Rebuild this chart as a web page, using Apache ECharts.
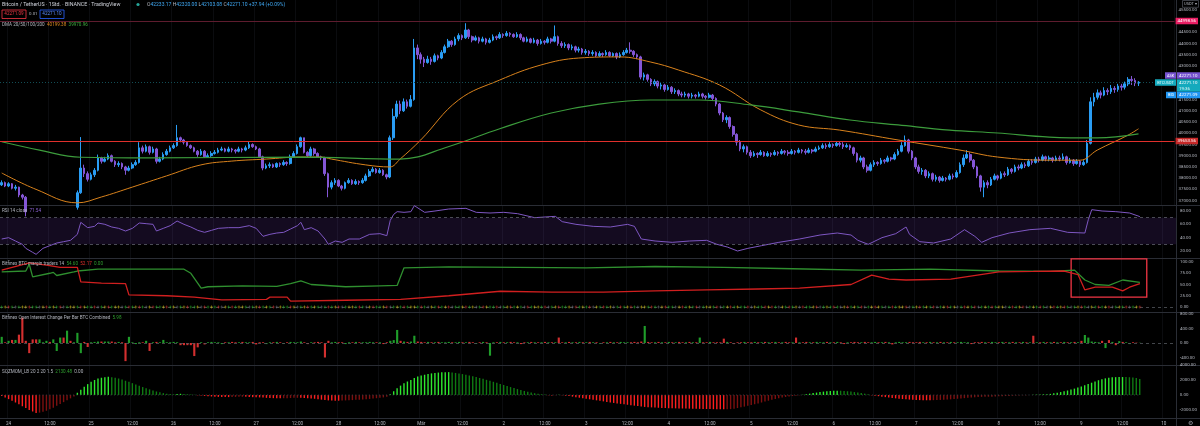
<!DOCTYPE html>
<html>
<head>
<meta charset="utf-8">
<script src="https://cdn.jsdelivr.net/npm/echarts@6/dist/echarts.min.js"></script>
<style>
  html, body { margin: 0; padding: 0; background: #000; }
  #chart { width: 1200px; height: 426px; }
</style>
</head>
<body>
<div id="chart"></div>
<script>
// BTCUSDT 1h, Feb 23 22:00 -> Mar 9 17:00 (2022)
var startTime = Date.UTC(2022, 1, 23, 22)
var slots = 342

var open0 = 37700
var closes = [
    37800, 37650, 37750, 37550, 37600, 37250, 37150, 36500, 35800, 35200, 34700, 35100,
    35400, 35700, 35300, 35500, 35900, 36200, 36000, 36300, 36100, 36700, 37350, 38450,
    38200, 37950, 38150, 38350, 38900, 38750, 38850, 39000, 38750, 38600, 38650, 38500,
    38350, 38450, 38600, 38700, 39350, 39200, 39400, 39150, 39300, 38750, 38850, 39050,
    39200, 39350, 39450, 39800, 39700, 39600, 39450, 39350, 39200, 39050, 39200, 38950,
    39000, 39100, 39150, 39250, 39300, 39200, 39300, 39250, 39200, 39300, 39250, 39350,
    39500, 39400, 39300, 38950, 38450, 38550, 38600, 38500, 38650, 38600, 38700, 38650,
    38950, 39100, 39400, 39800, 39150, 39000, 39300, 39100, 38950, 38900, 38200, 37600,
    37800, 37900, 37650, 37550, 37800, 37900, 37750, 37850, 37800, 37900, 38100, 38300,
    38400, 38250, 38350, 38150, 38050, 39800, 40750, 41300, 41000, 41400, 41200, 41500,
    43800, 43500, 43300, 43150, 43300, 43200, 43450, 43350, 43600, 43850, 44100, 43950,
    44200, 44350, 44250, 44600, 44300, 44150, 44250, 44100, 44200, 44050, 44150, 44300,
    44250, 44400, 44350, 44450, 44400, 44300, 44400, 44250, 44100, 44200, 44050, 44150,
    44000, 44100, 44050, 44200, 44100, 44300, 44000, 43900, 43950, 43800, 43850, 43700,
    43750, 43600, 43650, 43550, 43600, 43450, 43550, 43500, 43600, 43450, 43550, 43400,
    43500, 43600, 43700, 43650, 43500, 43400, 42500, 42600, 42400, 42200, 42300, 42100,
    42150, 41950, 42050, 41850, 41900, 41750, 41700, 41750, 41650, 41700, 41650, 41750,
    41650, 41600, 41700, 41550, 41300, 40900, 40600, 40700, 40300, 39950, 39600, 39300,
    39400, 39150, 39000, 39100, 39050, 39150, 39000, 39100, 39050, 39150, 39100, 39200,
    39150, 39100, 39200, 39150, 39250, 39200, 39150, 39250, 39200, 39300, 39350, 39450,
    39400, 39500, 39450, 39550, 39500, 39400, 39450, 39350, 39100, 38800, 38900, 38500,
    38350, 38600, 38700, 38650, 38800, 38750, 38900, 38850, 39050, 39200, 39450, 39700,
    39200, 38900, 38500, 38300, 38350, 38100, 38200, 37950, 38050, 37900, 38000, 37950,
    38100, 38050, 38250, 38600, 38900, 39050, 38800, 38500, 38100, 37600, 37800, 37700,
    37950, 38100, 38000, 38200, 38150, 38400, 38300, 38500, 38450, 38600, 38550, 38750,
    38700, 38850, 38800, 38950, 38850, 38900, 38800, 38900, 38850, 38950, 38700, 38800,
    38650, 38750, 38600, 38700, 39550, 41400, 41600, 41800, 41700, 41900, 41850, 42000,
    41950, 42100, 42050, 42200, 42400, 42350, 42233.17, 42271.10
]
var highs = [
    37900, 37850, 37820, 37780, 37700, 37620, 37300, 37200, 36600, 35900, 35400, 35300,
    35600, 35900, 35800, 35700, 36100, 36500, 36400, 36500, 36400, 36800, 37450, 39830,
    38600, 38300, 38250, 38450, 39050, 38950, 38950, 39100, 39050, 38800, 38750, 38700,
    38550, 38550, 38700, 38800, 39600, 39450, 39500, 39450, 39400, 39350, 38950, 39150,
    39300, 39450, 39550, 40370, 39850, 39750, 39650, 39500, 39400, 39250, 39300, 39250,
    39100, 39200, 39250, 39350, 39400, 39350, 39400, 39350, 39300, 39400, 39350, 39450,
    39650, 39550, 39450, 39350, 39000, 38650, 38700, 38650, 38700, 38700, 38800, 38750,
    39050, 39200, 39500, 39850, 39800, 39200, 39400, 39350, 39150, 39000, 38950, 38250,
    37900, 38000, 37950, 37700, 37850, 38000, 37950, 37950, 37900, 38000, 38200, 38400,
    38500, 38450, 38450, 38400, 38200, 39900, 41100, 41450, 41450, 41550, 41500, 41700,
    44200, 43950, 43600, 43400, 43450, 43400, 43550, 43500, 43700, 43950, 44200, 44150,
    44300, 44450, 44400, 44900, 44650, 44350, 44350, 44300, 44300, 44250, 44250, 44400,
    44350, 44500, 44450, 44550, 44500, 44450, 44500, 44450, 44300, 44300, 44250, 44250,
    44200, 44200, 44150, 44300, 44250, 44800, 44350, 44100, 44050, 44000, 43950, 43900,
    43850, 43800, 43750, 43700, 43700, 43650, 43650, 43600, 43700, 43650, 43600, 43600,
    43600, 43700, 43800, 44050, 43700, 43550, 43450, 42700, 42650, 42450, 42400, 42350,
    42250, 42200, 42150, 42100, 42000, 41950, 41850, 41850, 41800, 41800, 41750, 41850,
    41800, 41700, 41800, 41750, 41600, 41350, 40950, 40800, 40750, 40350, 40000, 39700,
    39500, 39450, 39250, 39200, 39150, 39250, 39200, 39200, 39150, 39250, 39200, 39300,
    39250, 39250, 39300, 39250, 39350, 39300, 39300, 39350, 39300, 39400, 39450, 39550,
    39550, 39600, 39550, 39650, 39650, 39600, 39550, 39500, 39400, 39150, 39000, 38950,
    38600, 38700, 38800, 38750, 38900, 38850, 39000, 38950, 39150, 39300, 39600, 39900,
    39750, 39250, 38950, 38600, 38450, 38400, 38300, 38250, 38150, 38100, 38100, 38050,
    38200, 38200, 38350, 38700, 39050, 39250, 39150, 38850, 38550, 38150, 37900, 37900,
    38050, 38200, 38150, 38300, 38300, 38500, 38450, 38600, 38600, 38700, 38700, 38850,
    38850, 38950, 38950, 39050, 39000, 39000, 38950, 39000, 39000, 39100, 39000, 38900,
    38850, 38850, 38800, 38800, 39700, 41600, 41800, 41950, 41900, 42050, 42000, 42150,
    42100, 42200, 42200, 42300, 42500, 42550, 42450, 42320.00
]
var lows = [
    37650, 37600, 37600, 37500, 37450, 37150, 37050, 36300, 35500, 34800, 34400, 34500,
    34900, 35200, 35100, 35200, 35400, 35800, 35800, 35900, 35900, 36000, 36600, 37300,
    38050, 37850, 37900, 38050, 38300, 38650, 38700, 38800, 38700, 38500, 38500, 38400,
    38150, 38300, 38400, 38550, 38650, 39100, 39150, 39050, 39100, 38650, 38700, 38800,
    39000, 39150, 39300, 39400, 39600, 39500, 39400, 39300, 39150, 38950, 39000, 38900,
    38900, 38950, 39050, 39100, 39200, 39150, 39150, 39150, 39100, 39150, 39150, 39200,
    39300, 39350, 39250, 38900, 38350, 38400, 38450, 38450, 38450, 38500, 38550, 38550,
    38600, 38900, 39050, 39350, 39100, 38950, 38950, 39000, 38900, 38800, 38100, 37150,
    37500, 37700, 37600, 37450, 37500, 37750, 37700, 37700, 37700, 37750, 37850, 38050,
    38250, 38200, 38200, 38100, 37950, 38000, 39700, 40650, 40850, 40950, 41100, 41150,
    41450, 43300, 43100, 42950, 43100, 43050, 43150, 43250, 43300, 43550, 43800, 43850,
    43900, 44100, 44150, 44200, 44200, 44050, 44100, 44000, 44050, 43950, 44000, 44100,
    44150, 44200, 44250, 44300, 44300, 44250, 44250, 44150, 44050, 44050, 44000, 44000,
    43900, 43950, 43950, 44000, 44000, 44050, 43900, 43800, 43800, 43700, 43700, 43600,
    43600, 43500, 43500, 43450, 43450, 43400, 43400, 43400, 43450, 43400, 43400, 43300,
    43350, 43450, 43550, 43550, 43400, 43300, 42400, 42350, 42300, 42100, 42100, 42000,
    41950, 41850, 41900, 41750, 41750, 41650, 41600, 41600, 41550, 41550, 41550, 41600,
    41550, 41500, 41550, 41450, 41200, 40800, 40500, 40450, 40200, 39850, 39450, 39200,
    39150, 39050, 38900, 38950, 38900, 39000, 38950, 38950, 38950, 39000, 39000, 39050,
    39050, 39000, 39050, 39050, 39100, 39100, 39050, 39100, 39100, 39150, 39250, 39300,
    39300, 39350, 39350, 39400, 39400, 39300, 39350, 39250, 39000, 38700, 38700, 38400,
    38250, 38300, 38500, 38550, 38600, 38650, 38700, 38750, 38800, 39000, 39150, 39400,
    39100, 38800, 38400, 38200, 38150, 38000, 38000, 37850, 37850, 37800, 37850, 37850,
    37900, 37950, 38000, 38200, 38500, 38850, 38700, 38400, 38000, 37400, 37150, 37550,
    37650, 37900, 37900, 37950, 38050, 38100, 38200, 38250, 38350, 38400, 38450, 38500,
    38600, 38650, 38700, 38750, 38750, 38750, 38700, 38750, 38750, 38800, 38600, 38650,
    38550, 38600, 38500, 38550, 38650, 39500, 41200, 41500, 41550, 41650, 41700, 41750,
    41800, 41850, 41900, 41950, 42100, 42150, 42100, 42103.08
]

// moving averages, [candle index, price]
var maFast = [[0, 38230], [10, 37500], [22, 36900], [29, 37160], [38, 37600], [48, 38100], [58, 38590],
    [67, 38760], [77, 38850], [87, 38940], [93, 38940], [96, 38850], [106, 38590], [113, 38500],
    [116, 38850], [122, 39700], [133, 41480], [145, 42370], [157, 43040], [168, 43350], [180, 43400],
    [189, 43170], [197, 42820], [209, 42150], [221, 41040], [232, 40370], [244, 40140], [261, 39700],
    [279, 39250], [290, 38940], [305, 38800], [314, 38800], [319, 39250], [328, 39920], [331, 40199.38]]
var maSlow = [[0, 39620], [11, 39250], [23, 38930], [43, 38900], [87, 38940], [116, 38850], [130, 39400],
    [145, 40200], [160, 40900], [174, 41300], [189, 41480], [203, 41480], [218, 41260], [232, 40950],
    [247, 40590], [261, 40370], [276, 40140], [290, 40010], [305, 39830], [319, 39790], [331, 39970.96]]

var rsi = [[0, 38], [2, 40], [4, 35], [6, 30], [7, 24], [9, 18], [10, 15], [12, 24], [14, 28], [16, 32],
    [18, 34], [20, 36], [22, 45], [23, 63], [25, 55], [27, 57], [28, 62], [30, 60], [32, 56], [34, 54],
    [36, 50], [38, 54], [40, 62], [42, 61], [44, 60], [45, 50], [47, 54], [49, 58], [51, 65], [53, 60],
    [55, 56], [57, 51], [59, 48], [61, 51], [63, 54], [66, 55], [69, 55], [72, 58], [74, 54], [76, 42],
    [78, 45], [80, 47], [82, 48], [84, 53], [86, 58], [87, 63], [88, 52], [90, 55], [92, 50], [94, 38],
    [95, 30], [97, 35], [99, 33], [101, 38], [104, 38], [107, 45], [110, 46], [112, 43], [113, 66],
    [114, 75], [115, 79], [117, 78], [119, 79], [120, 88], [123, 78], [126, 80], [130, 83], [135, 84],
    [138, 78], [142, 77], [146, 78], [150, 76], [155, 70], [161, 72], [163, 64], [167, 60], [172, 57],
    [177, 56], [182, 60], [184, 57], [186, 38], [190, 35], [195, 33], [200, 35], [205, 36], [208, 30],
    [211, 26], [214, 20], [217, 24], [221, 28], [226, 33], [232, 38], [238, 44], [243, 47], [247, 44],
    [249, 36], [252, 30], [256, 40], [260, 46], [263, 56], [264, 45], [267, 34], [271, 32], [276, 38],
    [280, 52], [283, 42], [285, 33], [288, 40], [293, 47], [299, 52], [305, 54], [310, 48], [315, 47],
    [316, 67], [317, 82], [320, 80], [324, 79], [328, 77], [331, 71.54]]

var marginLongs = [[0, 78], [7, 80], [8, 95], [9, 67], [14, 75], [15, 77], [16, 70], [21, 78], [22, 80],
    [28, 84], [40, 84], [53, 84], [55, 75], [58, 42], [60, 45], [70, 47], [80, 46], [84, 52], [87, 58],
    [90, 50], [100, 45], [110, 47], [115, 48], [117, 87], [130, 89], [150, 88], [170, 87], [190, 90],
    [210, 88], [230, 85], [250, 82], [270, 84], [290, 80], [305, 79], [312, 82], [315, 60], [318, 50],
    [322, 48], [326, 60], [331, 54.6]]
var marginShorts = [[0, 82], [8, 98], [13, 93], [17, 88], [22, 88], [23, 56], [29, 53], [36, 52], [37, 27],
    [48, 25], [56, 22], [64, 16], [77, 17], [78, 22], [83, 22], [84, 13], [100, 15], [116, 17], [130, 25],
    [145, 35], [160, 33], [175, 33], [190, 36], [205, 38], [220, 40], [232, 42], [247, 50], [253, 71],
    [258, 62], [263, 60], [276, 62], [290, 78], [300, 79], [309, 80], [313, 72], [315, 38], [318, 44],
    [323, 44], [326, 36], [328, 44], [331, 52.17]]
// g green, r red, y yellow, s grey
var marginCrosses = (
    'gyrgsgyyrggsyrgygrsgyygr' + 'yggrsgyrgyysgrgyrgsyrggy' + 'rgysgyrggysrgygrsygrgyyg' +
    'sgyrgygrsyggrysgyrgygsgr' + 'gyrsgyygrgsyrggyrsgygrgy' + 'ygrgsygrgyrsggyrgysgrygg' +
    'rsgyrgygsrgyygrsgyrggysr' + 'gygrsygrgysgrgyrgsyygrgs' + 'yrggsyrgygrsgyygrsgyrgyg' +
    'grsyggryrgsygrgysrggyrsg' + 'ygrgsyrgygrsgyrygsgrgyyr' + 'sgyrgygrsgyrgysgrygrsgyg' +
    'rgyysgrgyrsgygrgsyrgyrgs' + 'gyrgsygrgyrsgygrsgyrgyyg').split('')

var oiChange = [
    170, 20, 60, 85, 85, 230, 700, 60, -280, 100, 100, 100, 20, 60, 30, 100, -220, 150, 150, 340, 60, 20, 280, -280,
    30, -110, 20, 30, 40, 40, 40, 40, 40, 20, 30, 20, -500, 170, 20, -30, 20, 20, 60, -220, 20, 30, 20, 85,
    20, 20, 30, 20, -60, -60, -60, -60, -360, -120, 20, -40, 20, 30, 20, 20, -30, 20, 20, 30, 20, 20, 30, 20,
    20, 30, -40, 20, 20, -30, 20, 20, 30, 20, -20, 20, 30, 20, 20, 40, 20, -30, 20, 20, 30, 20, -400, 60,
    20, 30, 20, 20, -30, 20, 20, 30, 20, 20, 20, 30, 20, 20, 20, -30, 20, 60, 80, 360, 60, 40, 30, 40,
    200, 40, 30, 20, 30, 20, 20, 30, 20, 20, 30, 20, 20, 30, 20, 20, 30, 20, -20, 20, 30, 20, -350, 20,
    20, 30, 20, 20, 30, 20, 20, -30, 20, 20, 30, 20, 20, 20, 30, 20, 20, 20, 150, 20, 20, 30, 20, 20,
    30, 20, 20, 30, 20, 20, -20, 20, 20, 30, 20, 20, 30, 20, 20, 20, 30, 20, 40, 470, 30, 20, 20, 30,
    20, 20, 30, 20, 20, 30, 20, 20, 30, 20, 20, 150, 20, 20, 30, 20, 20, 20, 120, 30, 20, -30, 20, 20,
    30, 20, 20, 30, 20, 20, 30, 20, 20, 30, 20, 20, 30, 20, 20, 150, 20, 20, 30, 20, 20, 30, 20, 20,
    30, 20, 20, 30, 20, -30, 20, 20, 30, 20, 20, 30, 20, 20, 30, 20, 20, 30, 20, -40, 20, 30, 20, 20,
    30, 20, 20, 30, 20, 20, 30, 20, 20, 30, 20, 20, 30, 20, 20, 30, 20, 20, -30, 20, 20, 30, 20, 20,
    30, 20, 20, 30, 20, 20, 30, 20, 20, 30, 20, 20, 200, 20, 20, 30, 20, 20, 30, 20, 20, 30, 20, 20,
    30, 20, 60, 220, 150, 40, 30, 20, 60, -140, 80, 30, -60, 50, 30, 20, -30, 20, 10, 6
]

var sqzMom = [
    -150, -350, -550, -780, -1000, -1250, -1500, -1750, -2000, -2200, -2400,
    -2350, -2250, -2100, -1900, -1700, -1450, -1200, -950, -700, -450, -200,
    300, 700, 1100, 1450, 1750, 2000, 2200, 2300, 2380, 2420,
    2380, 2300, 2200, 2050, 1900, 1750, 1580, 1400, 1230, 1060, 900, 750, 600, 470, 350, 250, 170,
    120, 90, 140, 160, 130, 100, 70, 40,
    -40, -80, -120, -160, -200, -230, -250, -260, -270, -280, -270, -260, -250, -240, -250, -270, -290, -300, -320, -350,
    -380, -400, -420, -430, -440, -430, -420, -400, -380, -370, -380, -400, -430, -460, -500, -560, -620, -680, -720, -740,
    -760, -760, -740, -720, -700, -680, -650, -620, -590, -560, -520, -480, -430, -380, -320, -250,
    100, 500, 900, 1250, 1550, 1800, 2000, 2250, 2450, 2600, 2700, 2800, 2880, 2940, 2990, 3020, 3040, 3050,
    3000, 2940, 2870, 2790, 2700, 2600, 2500, 2390, 2270, 2150, 2020, 1890, 1760, 1620, 1480, 1340, 1200, 1060, 920, 790,
    660, 540, 430, 330, 240, 160, 100, 50,
    -30, -60, -20, 30, -40, -90, -150,
    -220, -290, -360, -430, -500, -570, -640, -710, -780, -850, -920, -990, -1060, -1120, -1180, -1240, -1300, -1360, -1420, -1480,
    -1540, -1590, -1620, -1650, -1680, -1700, -1720, -1740, -1760, -1770, -1780, -1790, -1800, -1810, -1820, -1830, -1840, -1850,
    -1860, -1870, -1880, -1890, -1900, -1905, -1910, -1900, -1880,
    -1820, -1740, -1650, -1550, -1450, -1340, -1230, -1120, -1000, -880, -760, -650, -540, -440, -350, -270, -200, -140, -90, -40,
    40, 110, 180, 250, 320, 390, 450, 500, 540, 570, 580, 570, 540, 500, 450, 390, 320, 250, 180, 110,
    -40, -100, -160, -220, -280, -340, -400, -450, -500, -540, -580, -610, -640, -660, -680, -690, -700, -700, -690, -680,
    -660, -640, -610, -580, -540, -500, -460, -420, -380, -340, -300, -270, -250, -240, -230, -220,
    -200, -180, -160, -140, -120, -100, -80, -60, -40, -20, 10, 30, 50, 70, 90, 110,
    150, 220, 300, 390, 490, 600, 720, 850, 990, 1140, 1300, 1470, 1640, 1810, 1970, 2110, 2220, 2300, 2350, 2380,
    2390, 2395, 2390, 2370, 2330, 2250, 2130
]

var priceTicks = [37000, 37500, 38000, 38500, 39000, 39500, 40000, 40500, 41000, 41500, 42000, 42500,
    43000, 43500, 44000, 44500, 45000, 45500]
var rsiTicks = [20, 40, 60, 80]
var marginTicks = [0, 25, 50, 75, 100]
var oiTicks = [-400, 0, 400, 800]
var sqzTicks = [-2000, 0, 2000, 4000]

var UP = '#2a9df4', DOWN = '#8456d6', TXT = '#b2b5be', FONT = 'Roboto'

var times = []
for (var t = 0; t < slots; t++) times.push(String(startTime + t * 3600000))

var candles = closes.map(function (c, i) {
    return [i === 0 ? open0 : closes[i - 1], c, lows[i], highs[i]]
})

var crossColor = { g: '#2bbd2b', r: '#e53935', y: '#e3cf1c', s: '#787b86' }
var crossData = marginCrosses.slice(0, closes.length).map(function (c, i) {
    return { value: [i, 0], itemStyle: { color: crossColor[c] } }
})

var oiData = oiChange.map(function (v, i) {
    return { value: v, itemStyle: { color: candles[i][1] >= candles[i][0] ? '#1f9d2a' : '#d32f2f' } }
})
var sqzData = sqzMom.map(function (v, i) {
    var prev = i > 0 ? sqzMom[i - 1] : v
    var c = v >= 0 ? (v >= prev ? '#2ee82e' : '#0f7a12') : (v <= prev ? '#ff1f1f' : '#7d1010')
    return { value: v, itemStyle: { color: c } }
})
var sqzZero = sqzMom.map(function () { return 0 })

function hourOf(v) { return new Date(+v).getUTCHours() }
function tickShown(index, value) { return hourOf(value) % 12 === 0 }

function xAx(grid, labels) {
    return {
        type: 'category', gridIndex: grid, data: times, boundaryGap: true,
        axisLine: { show: false }, axisTick: { show: false },
        splitLine: { show: true, interval: tickShown, lineStyle: { color: '#0b0c0f', width: 1 } },
        axisLabel: {
            show: labels, interval: tickShown, color: TXT, fontSize: 4.6, fontFamily: FONT, margin: 3,
            formatter: function (v) {
                var d = new Date(+v)
                if (d.getUTCHours() === 12) return '12:00'
                return d.getUTCDate() === 1 ? 'Mär' : String(d.getUTCDate())
            }
        }
    }
}
function yAx(grid, min, max, ticks) {
    return {
        type: 'value', gridIndex: grid, position: 'right', min: min, max: max, scale: true,
        axisLine: { show: false }, axisTick: { show: false }, splitLine: { show: false },
        axisLabel: {
            customValues: ticks, color: TXT, fontSize: 4.4, fontFamily: FONT, margin: 4,
            formatter: function (v) { return v.toFixed(2) }
        }
    }
}
function tag(value, text, bg, lineColor, lineType) {
    return {
        yAxis: value,
        lineStyle: { color: lineColor, width: 1, type: lineType },
        label: {
            show: true, position: 'end', distance: 1, formatter: text, backgroundColor: bg,
            color: '#fff', fontSize: 4.4, fontFamily: FONT, padding: [1.5, 2, 1, 2]
        }
    }
}
function label(x, y, parts, size) {
    var rich = {}, s = ''
    parts.forEach(function (p, k) {
        rich['p' + k] = { fill: p[1], fontSize: size || 4.6, fontFamily: FONT }
        s += '{p' + k + '|' + p[0] + '}'
    })
    return { type: 'text', x: x, y: y, silent: true, z: 50,
        style: { text: s, rich: rich, verticalAlign: 'middle', fontSize: size || 4.6, fontFamily: FONT } }
}

var chart = echarts.init(document.getElementById('chart'))

var option = {
    backgroundColor: '#000',
    animation: false,
    grid: [
        { left: 0, right: 24, top: 0, height: 205 },
        { left: 0, right: 24, top: 205, height: 53 },
        { left: 0, right: 24, top: 258, height: 54 },
        { left: 0, right: 24, top: 312, height: 53 },
        { left: 0, right: 24, top: 365, height: 53 }
    ],
    xAxis: [xAx(0, false), xAx(1, false), xAx(2, false), xAx(3, false), xAx(4, true)],
    yAxis: [
        yAx(0, 36804, 45935, priceTicks),
        yAx(1, 9.5, 89, rsiTicks),
        yAx(2, -11.1, 108.9, marginTicks),
        yAx(3, -607, 855, oiTicks),
        yAx(4, -3067, 4000, sqzTicks)
    ],
    series: [
        {
            type: 'candlestick', xAxisIndex: 0, yAxisIndex: 0, data: candles, barWidth: '62%', clip: true,
            itemStyle: { color: UP, color0: DOWN, borderColor: UP, borderColor0: DOWN, borderWidth: 1 },
            markLine: {
                silent: true, symbol: ['none', 'none'], animation: false,
                data: [
                    tag(44998.56, '44998.56', '#e91e63', '#5e1c2e', 'solid'),
                    tag(39653.56, '39653.56', '#c62828', '#e0302c', 'solid'),
                    {
                        yAxis: 42271.10, lineStyle: { color: '#124d55', width: 1, type: [1, 2] },
                        label: { show: false }
                    }
                ]
            }
        },
        {
            type: 'line', xAxisIndex: 0, yAxisIndex: 0, data: maFast, smooth: 0.4, symbol: 'none',
            lineStyle: { color: '#d9821c', width: 1 }, z: 4
        },
        {
            type: 'line', xAxisIndex: 0, yAxisIndex: 0, data: maSlow, smooth: 0.4, symbol: 'none',
            lineStyle: { color: '#3c9c3c', width: 1.2 }, z: 4
        },
        {
            type: 'line', xAxisIndex: 1, yAxisIndex: 1, data: rsi, symbol: 'none',
            lineStyle: { color: '#7e57c2', width: 1 },
            markArea: {
                silent: true, itemStyle: { color: 'rgba(126,70,200,0.16)' },
                data: [[{ yAxis: 30 }, { yAxis: 70 }]]
            },
            markLine: {
                silent: true, symbol: ['none', 'none'], label: { show: false },
                lineStyle: { color: '#5d606b', type: [3, 3], width: 0.8 },
                data: [{ yAxis: 70 }, { yAxis: 30 }]
            }
        },
        {
            type: 'line', xAxisIndex: 2, yAxisIndex: 2, data: marginLongs, symbol: 'none',
            lineStyle: { color: '#2f8f2f', width: 1.3 }
        },
        {
            type: 'line', xAxisIndex: 2, yAxisIndex: 2, data: marginShorts, symbol: 'none',
            lineStyle: { color: '#d11f1f', width: 1.3 },
            markLine: {
                silent: true, symbol: ['none', 'none'], label: { show: false },
                lineStyle: { color: '#55585f', type: [3, 3], width: 0.8 },
                data: [{ yAxis: 0 }]
            },
            markArea: {
                silent: true,
                itemStyle: { color: 'rgba(0,0,0,0)', borderColor: '#f23645', borderWidth: 1.3 },
                data: [[{ xAxis: 311, yAxis: 107 }, { xAxis: 333, yAxis: 22 }]]
            }
        },
        {
            type: 'scatter', xAxisIndex: 2, yAxisIndex: 2, data: crossData, symbolSize: 3,
            symbol: 'path://M2,0H3V2H5V3H3V5H2V3H0V2H2Z', z: 5
        },
        {
            type: 'bar', xAxisIndex: 3, yAxisIndex: 3, data: oiData, barWidth: '62%',
            markLine: {
                silent: true, symbol: ['none', 'none'], label: { show: false },
                lineStyle: { color: '#55585f', type: [3, 3], width: 0.8 },
                data: [{ yAxis: 0 }]
            }
        },
        {
            type: 'line', xAxisIndex: 4, yAxisIndex: 4, data: sqzZero, symbol: 'none',
            lineStyle: { color: '#3a3d44', type: [1, 2.4], width: 1 }
        },
        { type: 'bar', xAxisIndex: 4, yAxisIndex: 4, data: sqzData, barWidth: 1.4 }
    ]
}

chart.setOption(option)

// price tags that sit on the axis next to the last price
var lastPrice = closes[closes.length - 1]
var yLast = chart.convertToPixel({ yAxisIndex: 0 }, lastPrice)

function box(x, y, w, h, fill, stroke) {
    return { type: 'rect', silent: true, z: 60, shape: { x: x, y: y, width: w, height: h },
        style: { fill: fill, stroke: stroke || null, lineWidth: 0.8 } }
}
function txt(x, y, s, color, size, align) {
    return { type: 'text', silent: true, z: 61, x: x, y: y,
        style: { text: s, fill: color, fontSize: size || 4.4, fontFamily: FONT, align: align || 'left', verticalAlign: 'middle' } }
}

var graphics = [
    // pane separators
    { type: 'line', silent: true, shape: { x1: 0, y1: 205.5, x2: 1200, y2: 205.5 }, style: { stroke: '#2a2d35', lineWidth: 1 } },
    { type: 'line', silent: true, shape: { x1: 0, y1: 258.5, x2: 1200, y2: 258.5 }, style: { stroke: '#2a2d35', lineWidth: 1 } },
    { type: 'line', silent: true, shape: { x1: 0, y1: 312.5, x2: 1200, y2: 312.5 }, style: { stroke: '#2a2d35', lineWidth: 1 } },
    { type: 'line', silent: true, shape: { x1: 0, y1: 365.5, x2: 1200, y2: 365.5 }, style: { stroke: '#2a2d35', lineWidth: 1 } },
    { type: 'line', silent: true, shape: { x1: 0, y1: 418.5, x2: 1200, y2: 418.5 }, style: { stroke: '#2a2d35', lineWidth: 1 } },
    { type: 'line', silent: true, shape: { x1: 1176.5, y1: 0, x2: 1176.5, y2: 426 }, style: { stroke: '#2a2d35', lineWidth: 1 } },

    // header
    label(2, 4.5, [['Bitcoin / TetherUS · 1Std. · BINANCE · TradingView', '#d1d4dc']], 5.3),
    { type: 'circle', silent: true, shape: { cx: 138, cy: 4.5, r: 1.6 }, style: { fill: '#26a69a' } },
    label(147, 4.5, [['O', TXT], ['42233.17 ', '#3fa9f5'], ['H', TXT], ['42320.00 ', '#3fa9f5'],
        ['L', TXT], ['42103.08 ', '#3fa9f5'], ['C', TXT], ['42271.10 +37.94 (+0.09%)', '#3fa9f5']], 5),
    box(2, 10, 24, 8.5, '#000', '#f23645'),
    txt(14, 14.3, '42271.09', '#f23645', 4.6, 'center'),
    txt(29, 14.3, '0.01', TXT, 4.4),
    box(40, 10, 24, 8.5, '#000', '#2962ff'),
    txt(52, 14.3, '42271.10', '#5b8cff', 4.6, 'center'),
    label(2, 24.5, [['DMA 20/50/100/200  ', TXT], ['40199.38', '#e08a1e'], ['  ', TXT], ['39970.96', '#3fae3f']], 4.6),

    // indicator titles
    label(2, 211, [['RSI 14 close  ', TXT], ['71.54', '#8e63d6']], 4.6),
    label(2, 264, [['Bitfinex BTC margin traders 14  ', TXT], ['54.60', '#2f9f2f'], ['  ', TXT], ['52.17', '#e0302c'], ['  ', TXT], ['0.00', '#2f9f2f']], 4.6),
    label(2, 318, [['Bitfinex Open Interest Change Per Bar BTC Combined  ', TXT], ['5.98', '#2f9f2f']], 4.6),
    label(2, 372, [['SQZMOM_LB 20 2 20 1.5  ', TXT], ['2130.48', '#2f9f2f'], ['  ', TXT], ['0.00', TXT]], 4.6),

    // currency selector and settings
    box(1182.5, 0.5, 16, 6.8, '#000', '#4a4d55'),
    txt(1190.5, 4, 'USDT ▾', TXT, 4, 'center'),
    txt(1190, 423, '⚙', '#9598a1', 6, 'center'),

    // last price group
    box(1165, yLast - 10, 11, 6.5, '#7652d0'),
    txt(1170.5, yLast - 6.7, 'ASK', '#fff', 3.8, 'center'),
    box(1177, yLast - 10, 23, 6.5, '#7652d0'),
    txt(1179, yLast - 6.7, '42271.10', '#fff', 4.4),
    box(1155, yLast - 3, 21, 6.5, '#14aabd'),
    txt(1165.5, yLast + 0.3, 'BTCUSDT', '#e8f8fa', 3.8, 'center'),
    box(1177, yLast - 3, 23, 12.5, '#14aabd'),
    txt(1179, yLast + 0.3, '42271.10', '#fff', 4.4),
    txt(1179, yLast + 6.2, '19:36', '#e8f8fa', 4.4),
    box(1166, yLast + 9.5, 10, 6.5, '#2196f3'),
    txt(1171, yLast + 12.8, 'BID', '#fff', 3.8, 'center'),
    box(1177, yLast + 9.5, 23, 6.5, '#2196f3'),
    txt(1179, yLast + 12.8, '42271.09', '#fff', 4.4)
]

chart.setOption({ graphic: graphics })
</script>
</body>
</html>
